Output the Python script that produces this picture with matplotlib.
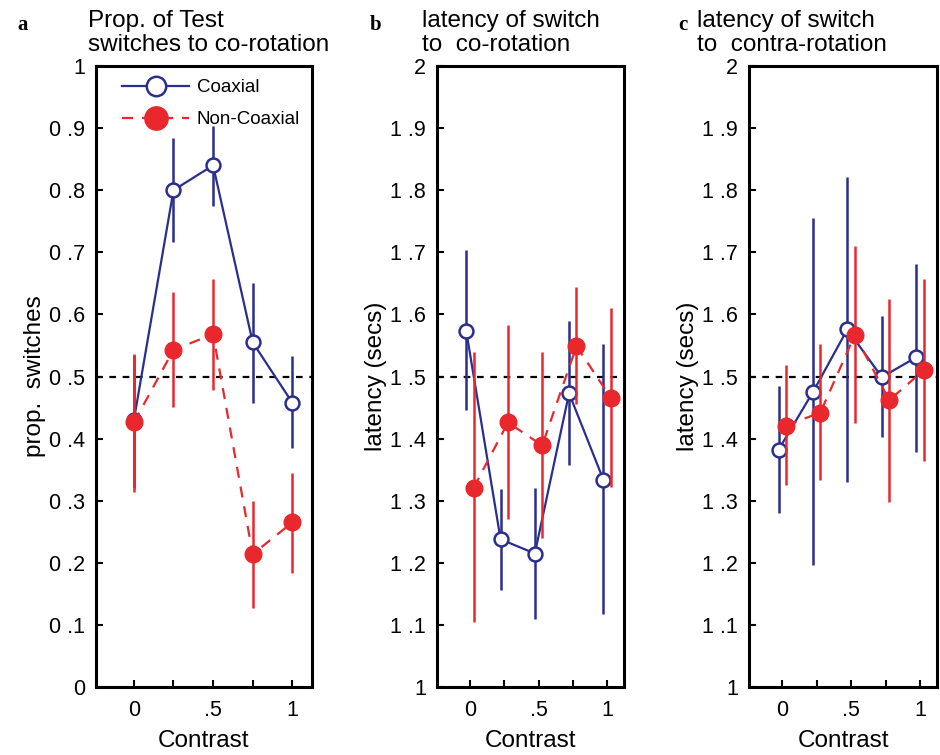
import matplotlib
matplotlib.use("Agg")
import matplotlib.pyplot as plt
import numpy as np

plt.rcParams['font.family'] = ['Liberation Sans', 'DejaVu Sans']

# contrast levels
contrast = [0, 0.25, 0.5, 0.75, 1]
xtick_labels = ["0", "", ".5", "", "1"]

# panel a: proportion of switches to co-rotation
a_coax = [0.43, 0.80, 0.84, 0.555, 0.458]
a_coax_lo = [0.32, 0.717, 0.775, 0.457, 0.385]
a_coax_hi = [0.535, 0.884, 0.904, 0.651, 0.533]
a_non = [0.426, 0.543, 0.568, 0.214, 0.265]
a_non_lo = [0.314, 0.451, 0.479, 0.128, 0.183]
a_non_hi = [0.536, 0.636, 0.657, 0.30, 0.344]

# panel b: latency of switch to co-rotation
b_coax = [1.573, 1.238, 1.215, 1.473, 1.334]
b_coax_lo = [1.446, 1.157, 1.109, 1.357, 1.117]
b_coax_hi = [1.703, 1.319, 1.320, 1.589, 1.553]
b_non = [1.321, 1.426, 1.389, 1.549, 1.466]
b_non_lo = [1.105, 1.270, 1.240, 1.455, 1.322]
b_non_hi = [1.540, 1.583, 1.540, 1.644, 1.611]

# panel c: latency of switch to contra-rotation
c_coax = [1.382, 1.475, 1.576, 1.499, 1.531]
c_coax_lo = [1.280, 1.196, 1.330, 1.403, 1.379]
c_coax_hi = [1.485, 1.755, 1.821, 1.598, 1.681]
c_non = [1.421, 1.442, 1.567, 1.462, 1.510]
c_non_lo = [1.325, 1.334, 1.425, 1.298, 1.364]
c_non_hi = [1.519, 1.552, 1.710, 1.625, 1.657]

blue = '#2b2f8c'
red = '#e8282d'
fs = 15.5      # tick labels
fs_lab = 17.5  # axis labels and titles

fig = plt.figure(figsize=(9.4, 7.55), dpi=100)


def panel(rect, base, coax, clo, chi, non, nlo, nhi, shift, ylabel):
    ax = fig.add_axes(rect)
    x = np.array(contrast)
    xb = x - shift
    xr = x + shift
    ax.axhline(base + 0.5, color='k', ls=(0, (3, 3)), lw=1.6, zorder=1)
    coax = np.array(coax); non = np.array(non)
    ax.errorbar(xb, coax, yerr=[coax - np.array(clo), np.array(chi) - coax],
                color=blue, lw=1.6, elinewidth=1.8, capsize=0, marker='o',
                ms=10, mfc='white', mec=blue, mew=1.8, zorder=3, label='Coaxial')
    ax.errorbar(xr, non, yerr=[non - np.array(nlo), np.array(nhi) - non],
                color=red, lw=1.6, elinewidth=1.8, capsize=0, marker='o',
                ms=12, mfc=red, mec=red, ls=(0, (5, 4)), zorder=4,
                label='Non-Coaxial')
    ax.set_xlim(-0.24, 1.125)
    ax.set_ylim(base, base + 1)
    ax.set_xticks(contrast)
    ax.set_xticklabels(xtick_labels, fontsize=fs)
    yt = base + np.arange(11) / 10
    labs = []
    for i, v in enumerate(yt):
        if i == 0 or i == 10:
            labs.append("%d" % round(v))
        else:
            labs.append("%d .%d" % (int(base), i))
    ax.set_yticks(yt)
    ax.set_yticklabels(labs, fontsize=fs)
    ax.tick_params(direction='in', length=5, width=1.5, pad=8)
    ax.tick_params(axis='x', pad=9)
    for s in ax.spines.values():
        s.set_linewidth(2.2)
    ax.set_xlabel('Contrast', fontsize=fs_lab, labelpad=7)
    ax.set_ylabel(ylabel, fontsize=fs_lab, labelpad=2)
    return ax


axa = panel([0.102, 0.090, 0.230, 0.8226], 0, a_coax, a_coax_lo, a_coax_hi,
            a_non, a_non_lo, a_non_hi, 0.0, 'prop.  switches')
axb = panel([0.465, 0.090, 0.199, 0.8226], 1, b_coax, b_coax_lo, b_coax_hi,
            b_non, b_non_lo, b_non_hi, 0.027, 'latency (secs)')
axc = panel([0.797, 0.090, 0.200, 0.8226], 1, c_coax, c_coax_lo, c_coax_hi,
            c_non, c_non_lo, c_non_hi, 0.027, 'latency (secs)')

leg = axa.legend(loc='upper left', frameon=False, fontsize=13.5, markerscale=1.4,
                 handlelength=3.6, borderaxespad=0.5, borderpad=0.2,
                 labelspacing=0.8, handletextpad=0.4, numpoints=1,
                 bbox_to_anchor=(0.06, 1.0))

# titles and panel letters
fig.text(0.094, 0.987, 'Prop. of Test\nswitches to co-rotation', fontsize=fs_lab,
         va='top', ha='left', linespacing=1.1)
fig.text(0.449, 0.987, 'latency of switch\nto  co-rotation', fontsize=fs_lab,
         va='top', ha='left', linespacing=1.1)
fig.text(0.741, 0.987, 'latency of switch\nto  contra-rotation', fontsize=fs_lab,
         va='top', ha='left', linespacing=1.1)
for xp, letter in [(0.018, 'a'), (0.393, 'b'), (0.722, 'c')]:
    fig.text(xp, 0.96, letter, fontsize=15, fontweight='bold',
             family='Liberation Serif', va='baseline')

fig.savefig('out.png', dpi=100)
